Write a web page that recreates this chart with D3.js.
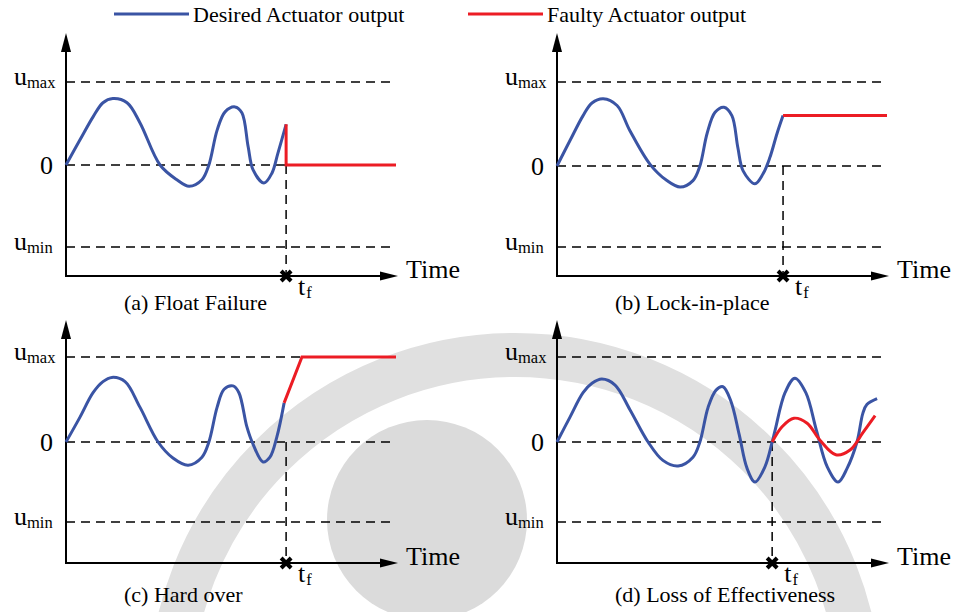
<!DOCTYPE html>
<html>
<head>
<meta charset="utf-8">
<script src="https://cdn.jsdelivr.net/npm/d3@7"></script>
<style>
  html, body { margin: 0; padding: 0; background: #fff; }
  svg { display: block; }
  text { font-family: "Liberation Serif", "Times New Roman", Times, serif; fill: #000; }
</style>
</head>
<body>
<svg id="chart" width="958" height="612" font-family="Liberation Serif, Times New Roman, serif"></svg>
<script>
// ---- values -------------------------------------------------------------
// Reference levels of the actuator output: u_max, 0, u_min
const levelValues = [1, 0, -1];
const levelBase   = ["u", "0", "u"];
const levelSub    = ["max", "", "min"];

const legendLabels = ["Desired Actuator output", "Faulty Actuator output"];
const captions = ["(a) Float Failure", "(b) Lock-in-place", "(c) Hard over", "(d) Loss of Effectiveness"];
const timeLabel = "Time";
const faultLabel = { base: "t", sub: "f" };

// Fault instant of each scenario (time units, axis runs 0..10)
const faultTimes = [6.67, 6.85, 6.67, 6.52];

// Desired actuator output, [time, u]
const desiredA = [[0,0],[0.42,0.30],[0.82,0.58],[1.12,0.75],[1.42,0.80],[1.85,0.75],[2.24,0.51],[2.85,0],
  [3.36,-0.18],[3.73,-0.26],[4.12,-0.18],[4.33,0],[4.58,0.42],[4.82,0.64],[5.12,0.70],[5.33,0.63],
  [5.52,0.22],[5.67,-0.06],[6.00,-0.22],[6.24,-0.10],[6.42,0.14],[6.67,0.49]];
const desiredB = [[0,0],[0.39,0.30],[0.79,0.60],[1.06,0.75],[1.40,0.80],[1.82,0.72],[2.21,0.42],[2.82,0.02],
  [3.33,-0.18],[3.73,-0.26],[4.12,-0.18],[4.33,0],[4.55,0.39],[4.79,0.64],[5.06,0.70],[5.30,0.60],
  [5.48,0.22],[5.64,-0.06],[6.00,-0.22],[6.24,-0.10],[6.45,0.10],[6.67,0.39],[6.85,0.60]];
const desiredC = [[0,0],[0.42,0.29],[0.82,0.58],[1.12,0.71],[1.39,0.76],[1.79,0.71],[2.24,0.41],[2.79,0],
  [3.24,-0.20],[3.70,-0.29],[4.12,-0.19],[4.33,0],[4.58,0.41],[4.79,0.62],[5.06,0.66],[5.24,0.58],
  [5.48,0.18],[5.64,0],[5.97,-0.25],[6.18,-0.19],[6.39,0.06],[6.61,0.46]];
const desiredD = [[0,0],[0.39,0.29],[0.79,0.58],[1.06,0.69],[1.36,0.74],[1.76,0.67],[2.21,0.38],[2.76,0],
  [3.21,-0.23],[3.67,-0.30],[4.12,-0.19],[4.33,0],[4.58,0.41],[4.82,0.61],[5.03,0.65],[5.27,0.48],
  [5.52,0.09],[5.76,-0.33],[6.00,-0.50],[6.30,-0.31],[6.52,0],[6.61,0.14],[6.91,0.58],[7.21,0.75],
  [7.54,0.58],[7.86,0.14],[8.19,-0.31],[8.52,-0.50],[8.79,-0.33],[9.09,0],[9.27,0.34],[9.39,0.44],
  [9.70,0.51]];

// Faulty actuator output, [time, u]
const faultyA = [[6.67,0.49],[6.67,0],[10,0]];
const faultyB = [[6.85,0.60],[10,0.60]];
const faultyC = [[6.61,0.46],[7.15,1.0],[10,1.0]];
const faultyD = [[6.52,0],[6.82,0.18],[7.18,0.28],[7.58,0.22],[7.97,0.02],[8.45,-0.16],[8.88,-0.10],
  [9.27,0.11],[9.64,0.31]];

const desiredSeries = [desiredA, desiredB, desiredC, desiredD];
const faultySeries  = [faultyA, faultyB, faultyC, faultyD];

// ---- styling / layout ---------------------------------------------------
const BLUE = "#3a54a4";
const RED  = "#ec1c24";
const FONT_MAIN = 26, FONT_SUB = 16.5, FONT_CAP = 22;

const panels = [
  { ox: 66,  axisY: 276, top: 33,  yMax: 82,  yZero: 165, yMin: 247, capY: 310, faultCurve: d3.curveLinear },
  { ox: 557, axisY: 276, top: 33,  yMax: 82,  yZero: 166, yMin: 247, capY: 310, faultCurve: d3.curveLinear },
  { ox: 66,  axisY: 563, top: 320, yMax: 357, yZero: 442, yMin: 522, capY: 602, faultCurve: d3.curveLinear },
  { ox: 557, axisY: 563, top: 320, yMax: 357, yZero: 442, yMin: 522, capY: 602, faultCurve: d3.curveCatmullRom.alpha(0.5) }
];

const svg = d3.select("#chart");

// faint emblem behind the figure
const emblem = svg.append("g").attr("class", "emblem");
emblem.append("circle").attr("cx", 515).attr("cy", 700).attr("r", 345)
  .attr("fill", "none").attr("stroke", "#e0e0e0").attr("stroke-width", 44);
emblem.append("circle").attr("cx", 427).attr("cy", 520).attr("r", 100).attr("fill", "#dbdbdb");

// ---- legend -------------------------------------------------------------
const legend = svg.append("g").attr("class", "legend");
const legendItems = [
  { x0: 114, x1: 189, color: BLUE, label: legendLabels[0] },
  { x0: 468, x1: 543, color: RED,  label: legendLabels[1] }
];
legendItems.forEach(it => {
  legend.append("line").attr("x1", it.x0).attr("x2", it.x1).attr("y1", 14).attr("y2", 14)
    .attr("stroke", it.color).attr("stroke-width", 3);
  legend.append("text").attr("x", it.x1 + 4).attr("y", 22)
    .attr("font-size", FONT_CAP).text(it.label);
});

// ---- panels -------------------------------------------------------------
panels.forEach((p, i) => {
  const g = svg.append("g").attr("class", "panel");
  const x = d3.scaleLinear().domain([0, 10]).range([p.ox, p.ox + 330]);
  const y = d3.scaleLinear().domain([-1, 0, 1]).range([p.yMin, p.yZero, p.yMax]);
  const xEnd = x(10);
  const tip = xEnd + 2;

  // dashed reference levels
  levelValues.forEach(v => {
    g.append("line").attr("x1", x(0)).attr("x2", xEnd).attr("y1", y(v)).attr("y2", y(v))
      .attr("stroke", "#000").attr("stroke-width", 1.5).attr("stroke-dasharray", "9,6");
  });

  // fault instant guide
  const tf = faultTimes[i];
  g.append("line").attr("x1", x(tf)).attr("x2", x(tf)).attr("y1", y(0)).attr("y2", p.axisY)
    .attr("stroke", "#000").attr("stroke-width", 1.5).attr("stroke-dasharray", "9,6");

  // axes with arrow heads
  g.append("line").attr("x1", p.ox).attr("x2", p.ox).attr("y1", p.axisY + 1).attr("y2", p.top + 15)
    .attr("stroke", "#000").attr("stroke-width", 2);
  g.append("line").attr("x1", p.ox - 1).attr("x2", tip - 12).attr("y1", p.axisY).attr("y2", p.axisY)
    .attr("stroke", "#000").attr("stroke-width", 2);
  g.append("path")
    .attr("d", `M${p.ox},${p.top} L${p.ox - 5},${p.top + 19} L${p.ox + 5},${p.top + 19} Z`)
    .attr("fill", "#000");
  g.append("path")
    .attr("d", `M${tip},${p.axisY} L${tip - 18},${p.axisY - 4.5} L${tip - 18},${p.axisY + 4.5} Z`)
    .attr("fill", "#000");

  // level labels
  levelValues.forEach((v, k) => {
    if (levelSub[k]) {
      const t = g.append("text").attr("x", p.ox - 52).attr("y", y(v) + 3);
      t.append("tspan").attr("font-size", FONT_MAIN).text(levelBase[k]);
      t.append("tspan").attr("font-size", FONT_SUB).attr("dy", 3).text(levelSub[k]);
    } else {
      g.append("text").attr("x", p.ox - 13).attr("y", y(v) + 9)
        .attr("text-anchor", "end").attr("font-size", FONT_MAIN).text(levelBase[k]);
    }
  });

  // axis title
  g.append("text").attr("x", tip + 8).attr("y", p.axisY + 2)
    .attr("font-size", FONT_MAIN).text(timeLabel);

  // desired and faulty outputs
  const desiredLine = d3.line().x(d => x(d[0])).y(d => y(d[1])).curve(d3.curveCatmullRom.alpha(0.5));
  const faultyLine = d3.line().x(d => x(d[0])).y(d => y(d[1])).curve(p.faultCurve);

  g.append("path").attr("d", desiredLine(desiredSeries[i]))
    .attr("fill", "none").attr("stroke", BLUE).attr("stroke-width", 3)
    .attr("stroke-linejoin", "round").attr("stroke-linecap", "butt");
  g.append("path").attr("d", faultyLine(faultySeries[i]))
    .attr("fill", "none").attr("stroke", RED).attr("stroke-width", 3)
    .attr("stroke-linejoin", "miter").attr("stroke-linecap", "butt");

  // fault instant marker
  const mx = x(tf), my = p.axisY, s = 5;
  g.append("path").attr("d", `M${mx - s},${my - s} L${mx + s},${my + s} M${mx - s},${my + s} L${mx + s},${my - s}`)
    .attr("stroke", "#000").attr("stroke-width", 4).attr("fill", "none");
  const tt = g.append("text").attr("x", mx + 12).attr("y", p.axisY + 19);
  tt.append("tspan").attr("font-size", FONT_MAIN).text(faultLabel.base);
  tt.append("tspan").attr("font-size", FONT_SUB).attr("dy", 3).attr("dx", 1).text(faultLabel.sub);

  // caption
  g.append("text").attr("x", p.ox + 58).attr("y", p.capY)
    .attr("font-size", FONT_CAP).text(captions[i]);
});
</script>
</body>
</html>
